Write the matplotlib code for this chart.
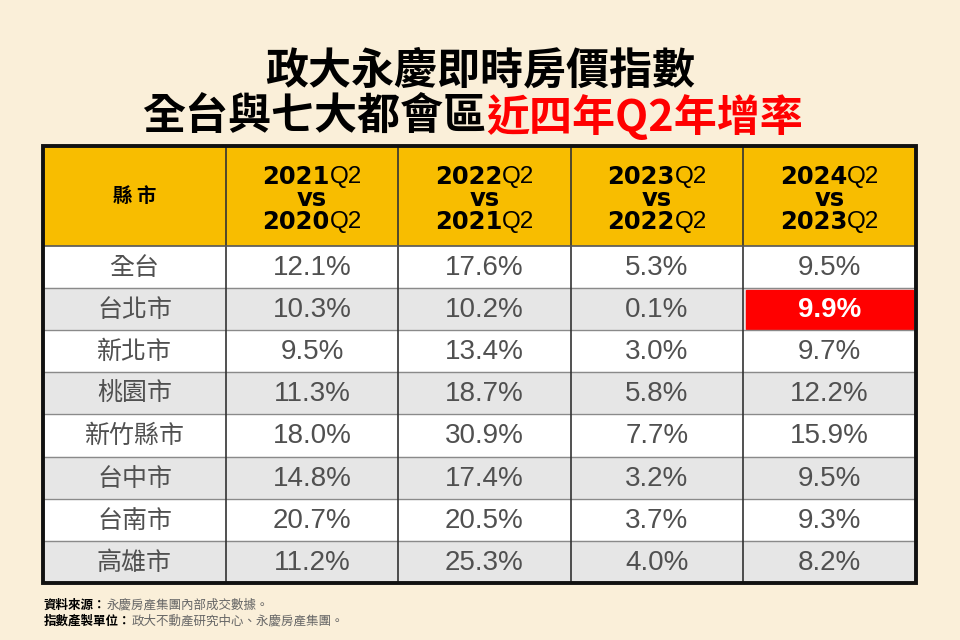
import matplotlib.pyplot as plt
from matplotlib.patches import Rectangle

plt.rcParams['font.family'] = ['Noto Sans CJK TC', 'DejaVu Sans']

cities = ['全台', '台北市', '新北市', '桃園市', '新竹縣市', '台中市', '台南市', '高雄市']
periods = [('2021', '2020'), ('2022', '2021'), ('2023', '2022'), ('2024', '2023')]
g2021 = [12.1, 10.3, 9.5, 11.3, 18.0, 14.8, 20.7, 11.2]
g2022 = [17.6, 10.2, 13.4, 18.7, 30.9, 17.4, 20.5, 25.3]
g2023 = [5.3, 0.1, 3.0, 5.8, 7.7, 3.2, 3.7, 4.0]
g2024 = [9.5, 9.9, 9.7, 12.2, 15.9, 9.5, 9.3, 8.2]
series = [g2021, g2022, g2023, g2024]
highlight = (1, 3)  # 台北市, 2024Q2

bg = '#FAEFD9'
fig = plt.figure(figsize=(9.6, 6.4), dpi=100, facecolor=bg)
ax = fig.add_axes([0, 0, 1, 1])
ax.set_xlim(0, 960)
ax.set_ylim(640, 0)
ax.axis('off')

# titles
ax.text(480, 70, '政大永慶即時房價指數', ha='center', va='center',
        fontsize=31, fontweight='black', color='black')
ax.text(486, 117, '全台與七大都會區', ha='right', va='center',
        fontsize=31, fontweight='bold', color='black')
ax.text(486, 117, '近四年Q2年增率', ha='left', va='center',
        fontsize=31, fontweight='bold', color='#FF0000')

# table geometry
xs = [43, 226, 398, 571, 743, 916]
top, head_h, row_h = 146, 100, 42.1

ax.add_patch(Rectangle((xs[0], top), xs[-1] - xs[0], head_h, color='#F8BD00', zorder=1))
for i, city in enumerate(cities):
    y0 = top + head_h + i * row_h
    fc = 'white' if i % 2 == 0 else '#E6E6E6'
    ax.add_patch(Rectangle((xs[0], y0), xs[-1] - xs[0], row_h, color=fc, zorder=1))
    if i > 0:
        ax.plot([xs[0], xs[-1]], [y0, y0], color='#8A8A8A', lw=1, zorder=3)
    ax.text((xs[0] + xs[1]) / 2, y0 + row_h / 2 + 1, city, ha='center', va='center',
            fontsize=18, color='#505050', zorder=4)
    for j, vals in enumerate(series):
        cx = (xs[j + 1] + xs[j + 2]) / 2
        txt = f'{vals[i]:.1f}%'
        if (i, j) == highlight:
            ax.add_patch(Rectangle((xs[j + 1] + 3, y0 + 1.5), xs[j + 2] - xs[j + 1] - 6,
                                   row_h - 3, color='#FF0000', zorder=2))
            ax.text(cx, y0 + row_h / 2 + 1, txt, ha='center', va='center',
                    fontsize=20, fontweight='bold', color='white',
                    family='Liberation Sans', zorder=4)
        else:
            ax.text(cx, y0 + row_h / 2 + 1, txt, ha='center', va='center',
                    fontsize=20, color='#505050', family='Liberation Sans', zorder=4)

for x in xs[1:-1]:
    ax.plot([x, x], [top, top + head_h + len(cities) * row_h], color='#333333', lw=1.2, zorder=3)
ax.plot([xs[0], xs[-1]], [top + head_h, top + head_h], color='#555555', lw=1.2, zorder=3)
ax.add_patch(Rectangle((xs[0], top), xs[-1] - xs[0], head_h + len(cities) * row_h,
                       fill=False, ec='#111111', lw=2.8, zorder=5))

# header
ax.text((xs[0] + xs[1]) / 2, top + head_h / 2 + 1, '縣 市', ha='center', va='center',
        fontsize=14, fontweight='black', color='black')

fig.canvas.draw()
renderer = fig.canvas.get_renderer()


def mixed(cx, cy, bold, thin):
    a = ax.text(0, cy, bold, ha='left', va='center', fontsize=17.5, fontweight='black',
                family='DejaVu Sans', color='black', zorder=4)
    b = ax.text(0, cy, thin, ha='left', va='center', fontsize=17.5, color='black',
                family='Liberation Sans', zorder=4)
    wa = a.get_window_extent(renderer).width
    wb = b.get_window_extent(renderer).width
    left = cx - (wa + wb) / 2
    a.set_x(left)
    b.set_x(left + wa)


for j, (new, old) in enumerate(periods):
    cx = (xs[j + 1] + xs[j + 2]) / 2
    mixed(cx, top + 31, new, 'Q2')
    ax.text(cx, top + 53, 'vs', ha='center', va='center', fontsize=17.5,
            fontweight='black', family='DejaVu Sans', color='black', zorder=4)
    mixed(cx, top + 76, old, 'Q2')

# footer
f1 = ax.text(44, 605, '資料來源：', ha='left', va='center', fontsize=9,
             fontweight='bold', color='black')
f2 = ax.text(44, 621, '指數產製單位：', ha='left', va='center', fontsize=9,
             fontweight='bold', color='black')
w1 = f1.get_window_extent(renderer).width
w2 = f2.get_window_extent(renderer).width
ax.text(44 + w1, 605, '永慶房產集團內部成交數據。', ha='left', va='center',
        fontsize=9, color='#666666')
ax.text(44 + w2, 621, '政大不動產研究中心、永慶房產集團。', ha='left', va='center',
        fontsize=9, color='#666666')

fig.savefig('out.png', dpi=100, facecolor=bg)
